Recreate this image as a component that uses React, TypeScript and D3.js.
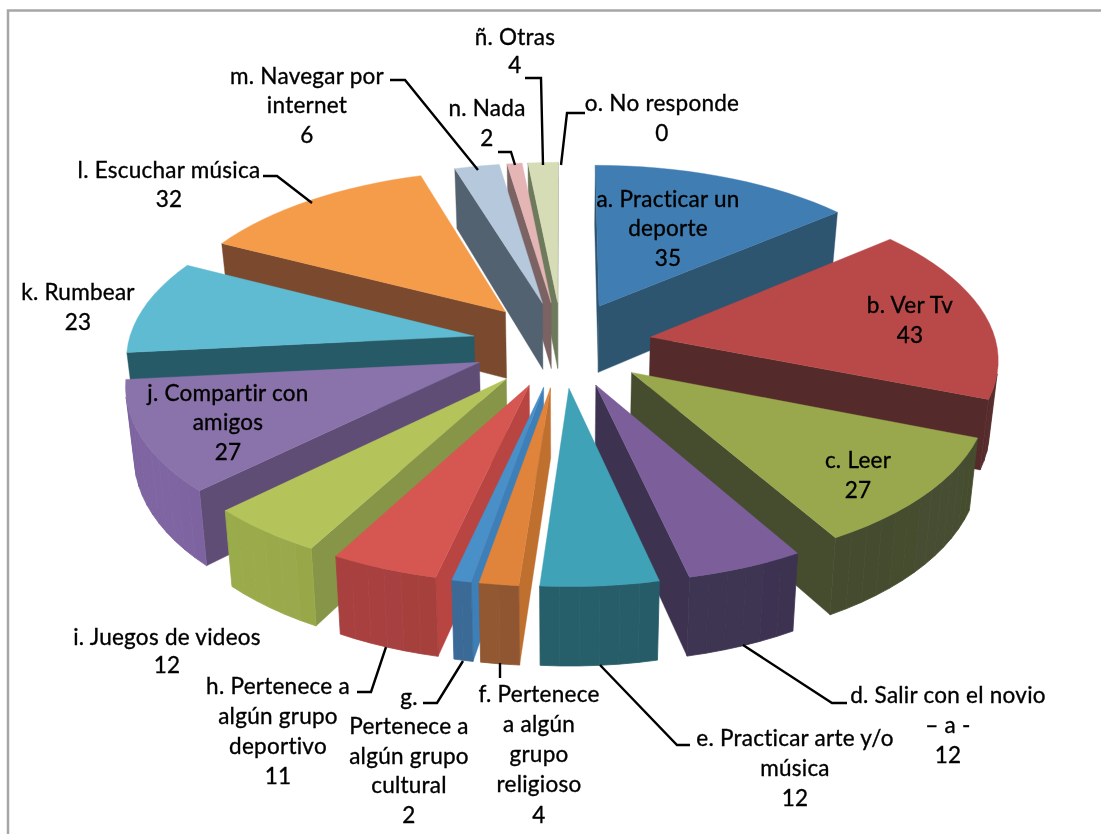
import React from "react";
import * as d3 from "d3";

const categories = ["a","b","c","d","e","f","g","h","i","j","k","l","m","n","ñ","o"];
const seriesValues = [35,43,27,12,12,4,2,11,12,27,23,32,6,2,4,0];
const labelLines = [
  ["a. Practicar un","deporte","35"],
  ["b. Ver Tv","43"],
  ["c. Leer","27"],
  ["d. Salir con el novio","– a -","12"],
  ["e. Practicar arte y/o","música","12"],
  ["f. Pertenece","a algún","grupo","religioso","4"],
  ["g.","Pertenece a","algún grupo","cultural","2"],
  ["h. Pertenece a","algún grupo","deportivo","11"],
  ["i. Juegos de videos","12"],
  ["j. Compartir con","amigos","27"],
  ["k. Rumbear","23"],
  ["l. Escuchar música","32"],
  ["m. Navegar por","internet","6"],
  ["n. Nada","2"],
  ["ñ. Otras","4"],
  ["o. No responde","0"],
];
const labelAnchors: [number, number][] = [
  [668,198],[910,304],[858,459],[948,694],[795,737],[539,693],[409,696],[278,685],
  [167,636],[228,392],[78,291],[169,169],[307,75],[487,107],[515,36],[662,102],
];
const lineSteps = [29.5,30,30,30,30,30.3,29.5,30,28.5,29.5,30,29.5,29.5,30,28.5,30];
const leaderPaths: [number,number][][] = [
  [[390,80],[405,80],[478,170]],
  [[498,152],[511,152],[515,165]],
  [[525,78],[541,78],[543,165]],
  [[585,113],[567,113],[561,165]],
  [[263,176],[277,176],[312,203]],
  [[357,692],[371,692],[386,647]],
  [[423,703],[437,703],[463,661]],
  [[500,663],[500,678]],
  [[690,745],[677,745],[600,665]],
  [[847,703],[832,703],[743,645]],
];
const topColors = ["#417db2","#b94a48","#9aa84e","#7b5f9a","#41a2b6","#e0833a","#4a8fc8","#d65651","#b4c45a","#8a73ab","#5fbbd2","#f59c4b","#b5c8dc","#e5b5b5","#d6dcb6","#ccc"];
const sideColors = ["#2f5470","#552b2a","#454d2f","#3c3350","#265c68","#c06f2e","#3d7fb8","#b94442","#869547","#5f4e76","#265a66","#7a4a2e","#536270","#7b6463","#6d7a5c","#999"];
const outerColors = ["#2f5470","#552b2a","#454d2f","#3c3350","#265c68","#905732","#3a6a96","#a5403e","#98a84a","#7d64a0","#265a66","#7a4a2e","#536270","#7b6463","#6d7a5c","#999"];

const W = 1101, H = 834;
const cx = 562, cy = 344, Rx = 346, Ry = 165, persp = 0.114, depth = 68, explode = 0.26, baseShrink = 0.98;

type Pt = [number, number];
const project = (X: number, Y: number, down = 0): Pt => {
  const w = 1 / (1 - persp * Y);
  const s = down > 0 ? baseShrink : 1;
  return [cx + X * Rx * w * s, cy + (Y * Ry + down) * w];
};
const poly = d3.line<Pt>().x(d => d[0]).y(d => d[1]);
const area2 = (p: Pt[]) => d3.polygonArea(p);

const pieGen = d3.pie<number>().sort(null).startAngle(0).endAngle(2 * Math.PI);
const arcs = pieGen(seriesValues);

function buildSlice(i: number) {
  const a = arcs[i];
  const mid = (a.startAngle + a.endAngle) / 2;
  const ox = explode * Math.sin(mid), oy = -explode * Math.cos(mid);
  const n = Math.max(2, Math.ceil((a.endAngle - a.startAngle) / (Math.PI / 60)));
  const angs = d3.range(n + 1).map(k => a.startAngle + (a.endAngle - a.startAngle) * k / n);
  const g: [number, number][] = angs.map(t => [ox + Math.sin(t), oy - Math.cos(t)]);
  const apex: [number, number] = [ox, oy];
  const top: Pt[] = [project(apex[0], apex[1]), ...g.map(p => project(p[0], p[1]))];
  const quad = (p: [number,number], q: [number,number]): Pt[] => [
    project(p[0], p[1]), project(q[0], q[1]), project(q[0], q[1], depth), project(p[0], p[1], depth),
  ];
  const topSign = Math.sign(area2(top));
  const visible = (q: Pt[]) => Math.sign(area2(q)) === -topSign;
  const sides = [quad(apex, g[0]), quad(g[n], apex)].filter(visible);
  const facets = g.slice(0, -1).map((p, k) => ({ q: quad(p, g[k + 1]), k })).filter(f => visible(f.q));
  return { i, mid, top, sides, facets, n };
}

const order = d3.range(seriesValues.length)
  .filter(i => seriesValues[i] > 0)
  .map(buildSlice)
  .sort((s, t) => d3.descending(Math.cos(s.mid), Math.cos(t.mid)));

const closed = (p: Pt[]) => poly(p) + "Z";
const fontFamily = "Lato, 'Open Sans', sans-serif";

export default function App() {
  return (
    <svg width={W} height={H} viewBox={`0 0 ${W} ${H}`} style={{ position: "absolute", left: 0, top: 0, background: "#fff" }}>
      <defs>
        <filter id="soft" x="0" y="0" width={W} height={H} filterUnits="userSpaceOnUse">
          <feGaussianBlur stdDeviation="0.55" />
        </filter>
      </defs>
      <g filter="url(#soft)">
        <path d={`M8 ${H}V10.5H${W}`} fill="none" stroke="#a6a6a6" strokeWidth={2.5} />
        {order.map(s => (
          <g key={categories[s.i]}>
            {s.sides.map((q, k) => (
              <path key={k} d={closed(q)} fill={sideColors[s.i]} stroke={sideColors[s.i]} strokeWidth={0.4} />
            ))}
            {s.facets.map(f => {
              const col = d3.color(outerColors[s.i])!.brighter(0.05 * Math.sin(f.k * 0.4)).formatHex();
              return <path key={f.k} d={closed(f.q)} fill={col} stroke={col} strokeWidth={0.8} />;
            })}
            <path d={closed(s.top)} fill={topColors[s.i]} stroke={topColors[s.i]} strokeWidth={0.4} />
          </g>
        ))}
        {leaderPaths.map((p, i) => (
          <path key={i} d={poly(p as Pt[]) || ""} fill="none" stroke="#000" strokeWidth={2.4} />
        ))}
        <g fontFamily={fontFamily} fontSize={22.5} letterSpacing={0.25} fill="#000" stroke="#000" strokeWidth={0.35} textAnchor="middle" dominantBaseline="central">
          {labelLines.map((ls, i) =>
            ls.map((t, j) => (
              <text key={`${i}-${j}`} x={labelAnchors[i][0]} y={labelAnchors[i][1] + j * lineSteps[i]}>{t}</text>
            ))
          )}
        </g>
      </g>
    </svg>
  );
}
